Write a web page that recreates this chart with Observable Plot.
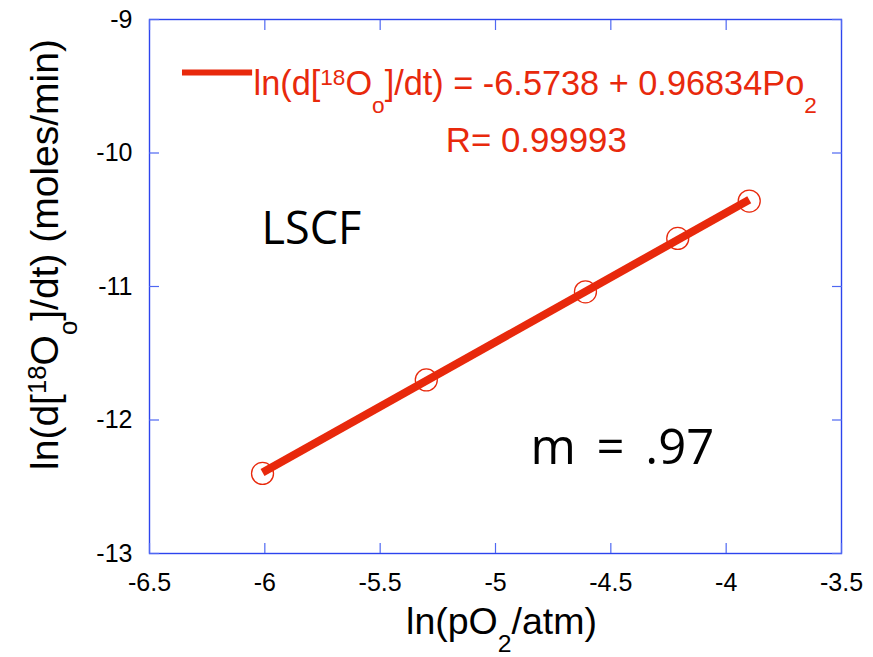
<!DOCTYPE html>
<html>
<head>
<meta charset="utf-8">
<script src="https://cdn.jsdelivr.net/npm/d3@7"></script>
<script src="https://cdn.jsdelivr.net/npm/@observablehq/plot@0.6"></script>
<style>
  html, body { margin: 0; padding: 0; background: #fff; }
  #chart svg { display: block; }
</style>
</head>
<body>
<div id="chart"></div>
<script>
// Measured exchange rates of 18O into LSCF vs. oxygen partial pressure
const lnPO2 = [-6.01, -5.30, -4.61, -4.21, -3.90];
const lnRate = [-12.40, -11.70, -11.04, -10.64, -10.36];

// Linear fit reported for the data
const fitIntercept = -6.5738;
const fitSlope = 0.96834;
const fitR = 0.99993;
const slopeLabel = "m = .97";
const sampleLabel = "LSCF";

// Axis ticks and titles (^{..} superscript, _{..} subscript)
const xTicks = [-6.5, -6, -5.5, -5, -4.5, -4, -3.5];
const yTicks = [-13, -12, -11, -10, -9];
const xTitle = "ln(pO_{2}/atm)";
const yTitle = "ln(d[^{18}O_{o}]/dt) (moles/min)";

const red = "#e8290c";
const frameBlue = "#2c44ee";
const tickBlue = "#4f68f2";
const font = "'Liberation Sans', Arial, sans-serif";

const points = lnPO2.map((x, i) => ({x, y: lnRate[i]}));
const fitEnds = [d3.min(lnPO2), d3.max(lnPO2)].map(x => ({x, y: fitIntercept + fitSlope * x}));
const eqLabel = `ln(d[^{18}O_{o}]/dt) = ${fitIntercept} + ${fitSlope}Po_{2}`;
const rLabel = `R= ${fitR}`;

// inward-pointing tick marks on every side of the frame
const tickMarks = (mk, anchor, ticks) =>
  mk(ticks, {anchor, tickSize: -10, tickFormat: () => "", label: null, color: tickBlue, strokeWidth: 1.2});

const chart = Plot.plot({
  width: 873,
  height: 657,
  marginLeft: 149,
  marginRight: 32,
  marginTop: 19,
  marginBottom: 104,
  style: {fontFamily: font, background: "#fff", color: "#000"},
  x: {domain: [-6.5, -3.5]},
  y: {domain: [-13, -9]},
  marks: [
    Plot.frame({stroke: frameBlue, strokeWidth: 1.4}),
    tickMarks(Plot.axisX, "bottom", xTicks),
    tickMarks(Plot.axisX, "top", xTicks),
    tickMarks(Plot.axisY, "left", yTicks),
    tickMarks(Plot.axisY, "right", yTicks),
    // tick labels
    Plot.text(xTicks, {x: d => d, text: d => `${d}`, frameAnchor: "bottom", dy: 20, lineAnchor: "top", textAnchor: "middle", fontSize: 25, fill: "#000"}),
    Plot.text(yTicks, {y: d => d, text: d => `${d}`, frameAnchor: "left", dx: -17, textAnchor: "end", lineAnchor: "middle", fontSize: 25, fill: "#000"}),
    // axis titles
    Plot.text([xTitle], {text: d => d, frameAnchor: "bottom", dx: 6, dy: 80, textAnchor: "middle", lineAnchor: "bottom", fontSize: 37.5, fill: "#000"}),
    Plot.text([yTitle], {text: d => d, frameAnchor: "left", rotate: -90, dx: -92, dy: -32, textAnchor: "middle", lineAnchor: "bottom", fontSize: 39, fill: "#000"}),
    // fitted line and measured points
    Plot.line(fitEnds, {x: "x", y: "y", stroke: red, strokeWidth: 8, strokeLinecap: "butt"}),
    Plot.dot(points, {x: "x", y: "y", r: 11, stroke: red, strokeWidth: 1.3, fill: "none"}),
    // legend
    Plot.ruleY([-9.397], {x1: -6.357, x2: -6.053, stroke: red, strokeWidth: 6}),
    Plot.text([eqLabel], {text: d => d, x: -6.049, y: -9.569, textAnchor: "start", lineAnchor: "bottom", fontSize: 34.3, fill: red}),
    Plot.text([rLabel], {text: d => d, x: -4.823, y: -9.996, textAnchor: "middle", lineAnchor: "bottom", fontSize: 34.8, fill: red}),
    // annotations
    Plot.text([sampleLabel], {text: d => d, x: -6.0145, y: -10.685, textAnchor: "start", lineAnchor: "bottom", fontSize: 45, fontFamily: "'Open Sans', sans-serif", fill: "#000"}),
    Plot.text([slopeLabel], {text: d => d, x: -4.8485, y: -12.326, textAnchor: "start", lineAnchor: "bottom", fontSize: 49, fontFamily: "'Open Sans', sans-serif", fill: "#000"})
  ]
});

document.getElementById("chart").appendChild(chart);

// Turn ^{..} / _{..} markup inside text elements into shifted tspans
function richText(svg) {
  svg.querySelectorAll("text").forEach(t => {
    const s = t.textContent;
    if (s === slopeLabel) t.style.wordSpacing = "8px";
    if (!/[\^_]\{/.test(s)) return;
    const fs = parseFloat(getComputedStyle(t).fontSize);
    const parts = [];
    const re = /([\^_])\{([^}]*)\}/g;
    let last = 0, m;
    while ((m = re.exec(s))) {
      if (m.index > last) parts.push({kind: "", str: s.slice(last, m.index)});
      parts.push({kind: m[1], str: m[2]});
      last = re.lastIndex;
    }
    if (last < s.length) parts.push({kind: "", str: s.slice(last)});
    while (t.firstChild) t.removeChild(t.firstChild);
    let offset = 0;
    for (const p of parts) {
      const ts = document.createElementNS("http://www.w3.org/2000/svg", "tspan");
      const target = p.kind === "^" ? -0.3 * fs : p.kind === "_" ? 0.5 * fs : 0;
      ts.setAttribute("dy", `${target - offset}`);
      offset = target;
      if (p.kind) ts.setAttribute("font-size", `${0.66 * fs}`);
      ts.textContent = p.str;
      t.appendChild(ts);
    }
  });
}
richText(chart);
</script>
</body>
</html>
